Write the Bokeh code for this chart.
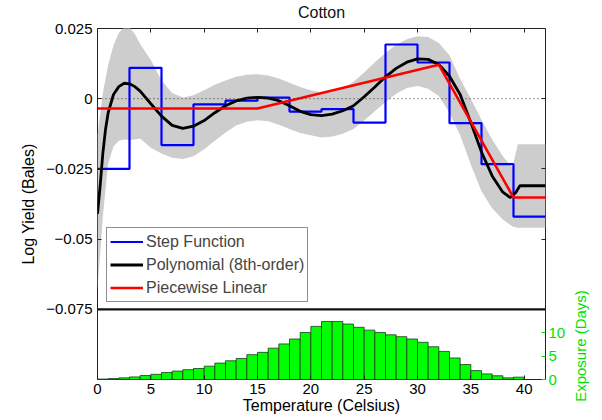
import numpy as np
from bokeh.plotting import figure
from bokeh.layouts import row
from bokeh.models import (Range1d, LinearAxis, FixedTicker, CustomJSTickFormatter,
                          Span, Legend, LegendItem, ColumnDataSource)
from bokeh.embed import file_html
from bokeh.resources import INLINE

# ---------------- data ----------------
step_edges = [0, 3, 6, 9, 12, 15, 18, 21, 24, 27, 30, 33, 36, 39, 42]
step_values = [-0.025, 0.011, -0.0165, -0.002, -0.0007, 0.0004, -0.0046,
               -0.0037, -0.0085, 0.0193, 0.0129, -0.0087, -0.0233, -0.042]

poly_temp = [0, 0.25, 0.5, 0.75, 1, 1.5, 2, 2.5, 3, 3.5, 4, 5, 6, 7, 8, 9, 10,
             11, 12, 13, 14, 15, 16, 17, 18, 19, 20, 21, 22, 23, 24, 25, 26,
             27, 28, 29, 30, 31, 32, 33, 34, 35, 36, 37, 38, 38.7, 39.2, 39.6, 42]
poly_value = [-0.041, -0.031, -0.0195, -0.011, -0.005, 0.0015, 0.0043, 0.0055,
              0.0053, 0.0043, 0.0027, -0.0018, -0.0062, -0.0095, -0.0106, -0.0098,
              -0.0078, -0.005, -0.0025, -0.0008, 0.0002, 0.0005, 0.0002, -0.0007,
              -0.0025, -0.0045, -0.0057, -0.006, -0.0055, -0.0043, -0.0025, 0.0007,
              0.0042, 0.0078, 0.0108, 0.013, 0.0142, 0.014, 0.0122, 0.008, 0.0015,
              -0.0085, -0.019, -0.0275, -0.0333, -0.0352, -0.0335, -0.031, -0.031]

band_temp = [0, 0.5, 1, 1.5, 2, 2.5, 3, 3.5, 4, 5, 6, 7, 8, 9, 10, 11, 12, 13,
             14, 15, 16, 17, 18, 19, 20, 21, 22, 23, 24, 25, 26, 27, 28, 29, 30,
             31, 32, 33, 34, 35, 36, 37, 38, 38.9, 39.4, 42]
band_upper = [-0.013, 0.002, 0.012, 0.019, 0.0235, 0.0255, 0.0255, 0.023, 0.0195,
              0.0138, 0.0065, 0.002, 0.0004, 0.0012, 0.003, 0.005, 0.0065, 0.0078,
              0.0085, 0.0087, 0.0083, 0.0072, 0.0057, 0.0042, 0.003, 0.0022, 0.0025,
              0.0037, 0.006, 0.0093, 0.013, 0.0163, 0.0192, 0.0212, 0.0222, 0.022,
              0.0198, 0.0155, 0.007, 0.0, -0.0075, -0.0145, -0.0205, -0.0245,
              -0.0162, -0.0162]
band_lower = [-0.068, -0.042, -0.023, -0.017, -0.015, -0.0145, -0.0147, -0.0145,
              -0.0142, -0.0175, -0.0195, -0.021, -0.0215, -0.0205, -0.018, -0.015,
              -0.012, -0.0095, -0.0082, -0.0077, -0.008, -0.0093, -0.0108, -0.0122,
              -0.013, -0.0138, -0.0135, -0.0125, -0.0108, -0.0078, -0.0045, -0.0012,
              0.0018, 0.0038, 0.0045, 0.0035, 0.001, -0.005, -0.013, -0.0235, -0.033,
              -0.039, -0.043, -0.0455, -0.046, -0.046]

pw_temp = [0, 15, 32, 39, 42]
pw_value = [-0.0035, -0.0035, 0.0121, -0.0352, -0.0352]

exposure_bin_left = list(range(40))
exposure_days = [0.1, 0.2, 0.35, 0.55, 0.85, 1.1, 1.5, 1.8, 2.1, 2.35, 2.85, 3.5,
                 4.0, 4.5, 5.3, 5.8, 6.7, 7.6, 8.65, 10.05, 11.35, 12.4, 12.4,
                 11.85, 11.15, 10.55, 10.05, 9.55, 9.15, 8.65, 7.95, 7.0, 6.0, 4.6,
                 3.2, 1.9, 1.2, 0.8, 0.35, 0.5]

x_ticks = [0, 5, 10, 15, 20, 25, 30, 35, 40]
y_ticks = [-0.075, -0.05, -0.025, 0, 0.025]
exposure_ticks = [0, 5, 10]

FONT = "Liberation Sans"
GREEN = "#00e000"

# ---------------- main figure ----------------
p = figure(width=568, height=420, x_range=Range1d(0, 42), y_range=Range1d(-0.1, 0.025),
           output_backend="svg", toolbar_location=None,
           min_border_left=97, min_border_right=20, min_border_top=28, min_border_bottom=41,
           background_fill_color="white", border_fill_color="white",
           outline_line_color="#222222", outline_line_width=1)
p.xgrid.visible = False
p.ygrid.visible = False
p.title.visible = False
p.extra_y_ranges = {"exposure": Range1d(0, 75)}

# confidence band
p.varea(x=band_temp, y1=band_lower, y2=band_upper, fill_color="#cdcdcd", fill_alpha=1.0)

# zero dotted line and separator line
p.add_layout(Span(location=0, dimension="width", line_color="#333333",
                  line_dash="1 3", line_width=1))
p.add_layout(Span(location=-0.075, dimension="width", line_color="#111111",
                  line_width=2.2))

# series
r_step = p.step(x=step_edges, y=step_values + [step_values[-1]], mode="after",
                line_color="#0000ff", line_width=2.2)
r_poly = p.line(x=poly_temp, y=poly_value, line_color="black", line_width=2.8)
r_pw = p.line(x=pw_temp, y=pw_value, line_color="#ff0000", line_width=2.6)

# exposure histogram
hist_src = ColumnDataSource(dict(x=np.array(exposure_bin_left) + 0.5, top=exposure_days))
p.vbar(x="x", top="top", bottom=0, width=1, source=hist_src, y_range_name="exposure",
       fill_color="#00ff00", line_color="#1c3a1c", line_width=0.8)

# ---------------- axes ----------------
minus_fmt = CustomJSTickFormatter(code="""
    if (tick == 0) return '0';
    return tick < 0 ? '\\u2212' + (-tick).toString() : tick.toString();
""")
blank_fmt = CustomJSTickFormatter(code="return '';")

xa = p.xaxis[0]
xa.ticker = FixedTicker(ticks=x_ticks)
xa.axis_label = "Temperature (Celsius)"
xa.axis_label_standoff = 0
ya = p.yaxis[0]
ya.ticker = FixedTicker(ticks=y_ticks)
ya.formatter = minus_fmt
ya.axis_label = "Log Yield (Bales)"
ya.axis_label_standoff = 6
for ax in (xa, ya):
    ax.axis_label_text_font = FONT
    ax.axis_label_text_font_size = "16px"
    ax.axis_label_text_font_style = "normal"
    ax.axis_label_text_color = "black"
    ax.major_label_text_font = FONT
    ax.major_label_text_font_size = "15px"
    ax.major_label_text_color = "black"
    ax.major_tick_in = 4
    ax.major_tick_out = 0
    ax.minor_tick_line_color = None
    ax.axis_line_color = None
    ax.major_tick_line_color = "#222222"
xa.major_label_standoff = 4
ya.major_label_standoff = 5

# top mirror ticks; its axis title carries the panel title "Cotton"
top_ax = LinearAxis(ticker=FixedTicker(ticks=x_ticks), formatter=blank_fmt,
                    major_label_standoff=0, major_tick_in=4, major_tick_out=0,
                    axis_line_color=None, minor_tick_line_color=None,
                    major_tick_line_color="#222222",
                    axis_label="Cotton", axis_label_standoff=8,
                    axis_label_text_font=FONT, axis_label_text_font_size="16px",
                    axis_label_text_font_style="normal", axis_label_text_color="#111111")
p.add_layout(top_ax, "above")

right_mirror = LinearAxis(ticker=FixedTicker(ticks=y_ticks), formatter=blank_fmt,
                          major_label_standoff=0, major_tick_in=4, major_tick_out=0,
                          axis_line_color=None, minor_tick_line_color=None,
                          major_tick_line_color="#222222")
p.add_layout(right_mirror, "right")

right_exp = LinearAxis(y_range_name="exposure", ticker=FixedTicker(ticks=exposure_ticks),
                       major_label_text_font=FONT, major_label_text_font_size="15px",
                       major_label_text_color=GREEN, major_label_standoff=3,
                       major_tick_in=4, major_tick_out=0, axis_line_color=None,
                       minor_tick_line_color=None, major_tick_line_color=GREEN)
p.add_layout(right_exp, "right")

# ---------------- legend ----------------
legend = Legend(items=[LegendItem(label="Step Function", renderers=[r_step]),
                       LegendItem(label="Polynomial (8th-order)", renderers=[r_poly]),
                       LegendItem(label="Piecewise Linear", renderers=[r_pw])],
                location=(9, 77), orientation="vertical",
                label_text_font=FONT, label_text_font_size="16px",
                glyph_width=33, glyph_height=21, label_height=21, label_standoff=3,
                spacing=2, padding=3, margin=0,
                border_line_color="#222222", border_line_width=1,
                background_fill_color="white", background_fill_alpha=1.0)
p.add_layout(legend, "center")

# ---------------- side strip: title of the exposure axis, centred on the histogram band ----------------
q = figure(width=34, height=420, x_range=Range1d(0, 1), y_range=Range1d(0, 1),
           output_backend="svg", toolbar_location=None,
           min_border_left=8, min_border_right=0, min_border_top=288, min_border_bottom=17,
           x_axis_type=None, outline_line_color=None,
           background_fill_color="white", border_fill_color="white")
q.xgrid.visible = False
q.ygrid.visible = False
q.title.visible = False
qa = q.yaxis[0]
qa.ticker = FixedTicker(ticks=[])
qa.formatter = blank_fmt
qa.major_label_standoff = 0
qa.major_tick_line_color = None
qa.minor_tick_line_color = None
qa.axis_line_color = None
qa.axis_label = "Exposure (Days)"
qa.axis_label_standoff = 0
qa.axis_label_text_font = FONT
qa.axis_label_text_font_size = "15px"
qa.axis_label_text_font_style = "normal"
qa.axis_label_text_color = GREEN

# keep each plot's own frame (do not align the two frames with each other)
for fig in (p, q):
    if "frame_align" in fig.properties():
        fig.frame_align = False

layout = row(p, q, spacing=0)
open("out.html", "w").write(file_html(layout, INLINE))
